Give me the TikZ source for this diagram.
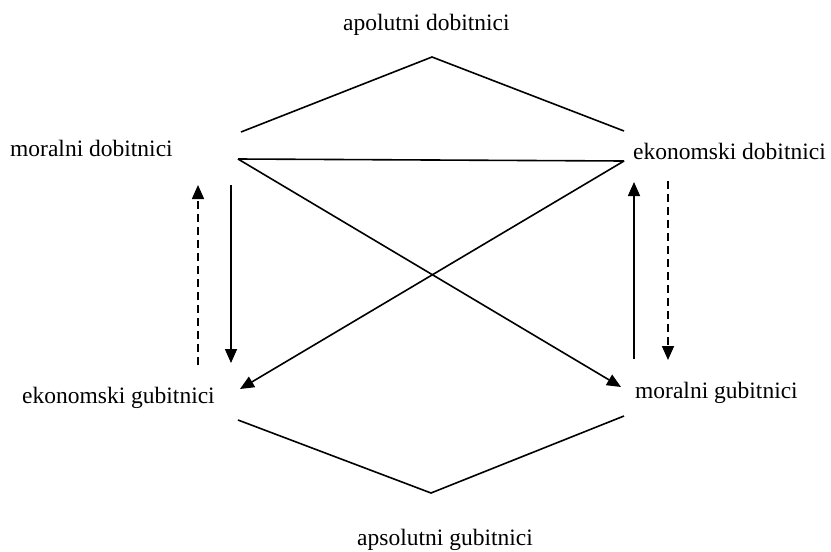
\documentclass[tikz,border=0pt]{standalone}
\usepackage{fontspec}
\setmainfont{Liberation Serif}
\usetikzlibrary{arrows.meta}
\begin{document}
\begin{tikzpicture}[x=1pt,y=-1pt,
  lbl/.style={anchor=base west,inner sep=0pt,font=\fontsize{23.5}{28}\selectfont},
  ln/.style={line width=1.6pt},
  arr/.style={line width=1.6pt,-{Triangle[length=14pt,width=12pt]}},
  darr/.style={arr,dash pattern=on 8pt off 5pt}]
\useasboundingbox (0,0) rectangle (831,552);
% labels
\node[lbl] (ad) at (343,30) {apolutni dobitnici};
\node[lbl] (md) at (10,156) {moralni dobitnici};
\node[lbl] (ed) at (633,159) {ekonomski dobitnici};
\node[lbl] (eg) at (22,403) {ekonomski gubitnici};
\node[lbl] (mg) at (635,398) {moralni gubitnici};
\node[lbl] (ag) at (357,545) {apsolutni gubitnici};
% coordinates
\coordinate (ta) at (432,57);
\coordinate (tl) at (241,132);
\coordinate (tr) at (624,131);
\coordinate (mdp) at (238,159);
\coordinate (edp) at (624,161);
\coordinate (egp) at (240,389);
\coordinate (mgp) at (621,387);
\coordinate (ls1) at (231,185);
\coordinate (ls2) at (231,363);
\coordinate (ld1) at (198,365);
\coordinate (ld2) at (198,185);
\coordinate (rs1) at (634,359);
\coordinate (rs2) at (634,182);
\coordinate (rd1) at (668,181);
\coordinate (rd2) at (668,360);
\coordinate (bl) at (238,420);
\coordinate (bv) at (431,493);
\coordinate (br) at (624,416);
% lines
\draw[ln] (tl) -- (ta) -- (tr);
\draw[ln] (mdp) -- (edp);
\draw[arr] (mdp) -- (mgp);
\draw[arr] (edp) -- (egp);
\draw[arr] (ls1) -- (ls2);
\draw[darr] (ld1) -- (ld2);
\draw[arr] (rs1) -- (rs2);
\draw[darr] (rd1) -- (rd2);
\draw[ln] (bl) -- (bv) -- (br);
\end{tikzpicture}
\end{document}
